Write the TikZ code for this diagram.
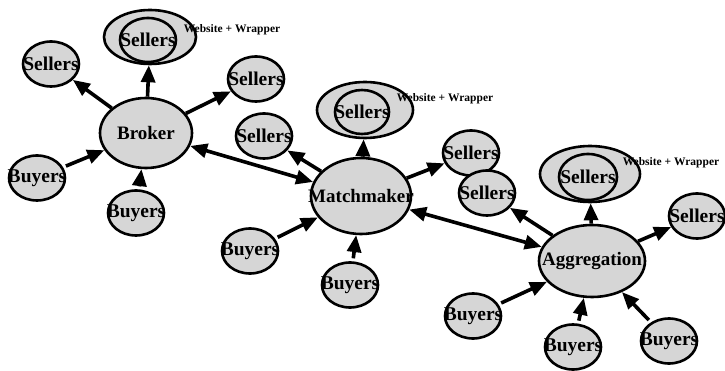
\documentclass[tikz,border=0pt]{standalone}
\usepackage{fontspec}
\setmainfont{Liberation Serif}
\usepackage{tikz}
\usetikzlibrary{shapes.geometric,arrows.meta,positioning}

% text that may run over its ellipse, as in the drawing
\newcommand{\spill}[1]{\makebox[0pt]{#1}}

\begin{document}
\begin{tikzpicture}[x=1pt,y=-1pt,
    party/.style={ellipse, draw, line width=2.6pt, fill=black!16, inner sep=0pt,
        minimum width=56pt, minimum height=45pt,
        font=\bfseries\fontsize{19.5}{19.5}\selectfont},
    hub/.style={party, font=\bfseries\fontsize{19}{19}\selectfont},
    site/.style={ellipse, draw, line width=2.6pt, fill=black!16, inner sep=0pt},
    tag/.style={font=\bfseries\fontsize{11.5}{11.5}\selectfont, inner sep=0pt},
    link/.style={line width=3.6pt, -{Triangle[length=17pt,width=14pt]}},
    twin/.style={line width=3.6pt, {Triangle[length=17pt,width=14pt]}-{Triangle[length=17pt,width=14pt]}}]
    \useasboundingbox (0,0) rectangle (725,371);

    % Broker
    \node[hub, minimum width=92pt, minimum height=70pt] (broker) at (146,133) {\spill{Broker}};
    \node[site, minimum width=92pt, minimum height=54pt] (bweb) at (150,37) {};
    \node[party, minimum width=56pt, minimum height=44pt] (bsel) at (148,40) {\spill{Sellers}};
    \node[tag] (btag) at (232,30) {Website + Wrapper};
    \node[party] (bsl) at (51,64) {\spill{Sellers}};
    \node[party] (bsr) at (256,79) {\spill{Sellers}};
    \node[party] (bbl) at (37,178) {\spill{Buyers}};
    \node[party] (bbb) at (136,213) {\spill{Buyers}};

    % Matchmaker
    \node[hub, minimum width=100pt, minimum height=76pt] (match) at (361,196) {\spill{Matchmaker}};
    \node[site, minimum width=96pt, minimum height=56pt] (mweb) at (365,110) {};
    \node[party, minimum width=54pt, minimum height=44pt] (msel) at (362,112) {\spill{Sellers}};
    \node[tag] (mtag) at (445,99) {Website + Wrapper};
    \node[party] (msl) at (264,136) {\spill{Sellers}};
    \node[party] (msr) at (471,153) {\spill{Sellers}};
    \node[party] (mbl) at (250,251) {\spill{Buyers}};
    \node[party] (mbb) at (350,285) {\spill{Buyers}};

    % Aggregation
    \node[hub, minimum width=106pt, minimum height=72pt] (aggr) at (592,261) {\spill{Aggregation}};
    \node[site, minimum width=100pt, minimum height=56pt] (aweb) at (590,174) {};
    \node[party, minimum width=58pt, minimum height=46pt] (asel) at (588,177) {\spill{Sellers}};
    \node[tag] (atag) at (671,163) {Website + Wrapper};
    \node[party] (asl) at (487,193) {\spill{Sellers}};
    \node[party] (asr) at (697,216) {\spill{Sellers}};
    \node[party] (abl) at (473,316) {\spill{Buyers}};
    \node[party] (abb) at (573,347) {\spill{Buyers}};
    \node[party] (abr) at (669,341) {\spill{Buyers}};

    % arrows
    \draw[link] (broker) -- (bweb);
    \draw[link] (broker) -- (bsl);
    \draw[link] (broker) -- (bsr);
    \draw[link, shorten <=3pt] (bbl) -- (broker);
    \draw[link, shorten <=3pt] (bbb) -- (broker);

    \draw[link] (match) -- (mweb);
    \draw[link] (match) -- (msl);
    \draw[link] (match) -- (msr);
    \draw[link, shorten <=3pt] (mbl) -- (match);
    \draw[link, shorten <=3pt] (mbb) -- (match);

    \draw[link] (aggr) -- (aweb);
    \draw[link] (aggr) -- (asl);
    \draw[link] (aggr) -- (asr);
    \draw[link, shorten <=3pt] (abl) -- (aggr);
    \draw[link, shorten <=3pt] (abb) -- (aggr);
    \draw[link, shorten <=3pt] (abr) -- (aggr);

    \draw[twin] (broker) -- (match);
    \draw[twin] (match) -- (aggr);
\end{tikzpicture}
\end{document}
